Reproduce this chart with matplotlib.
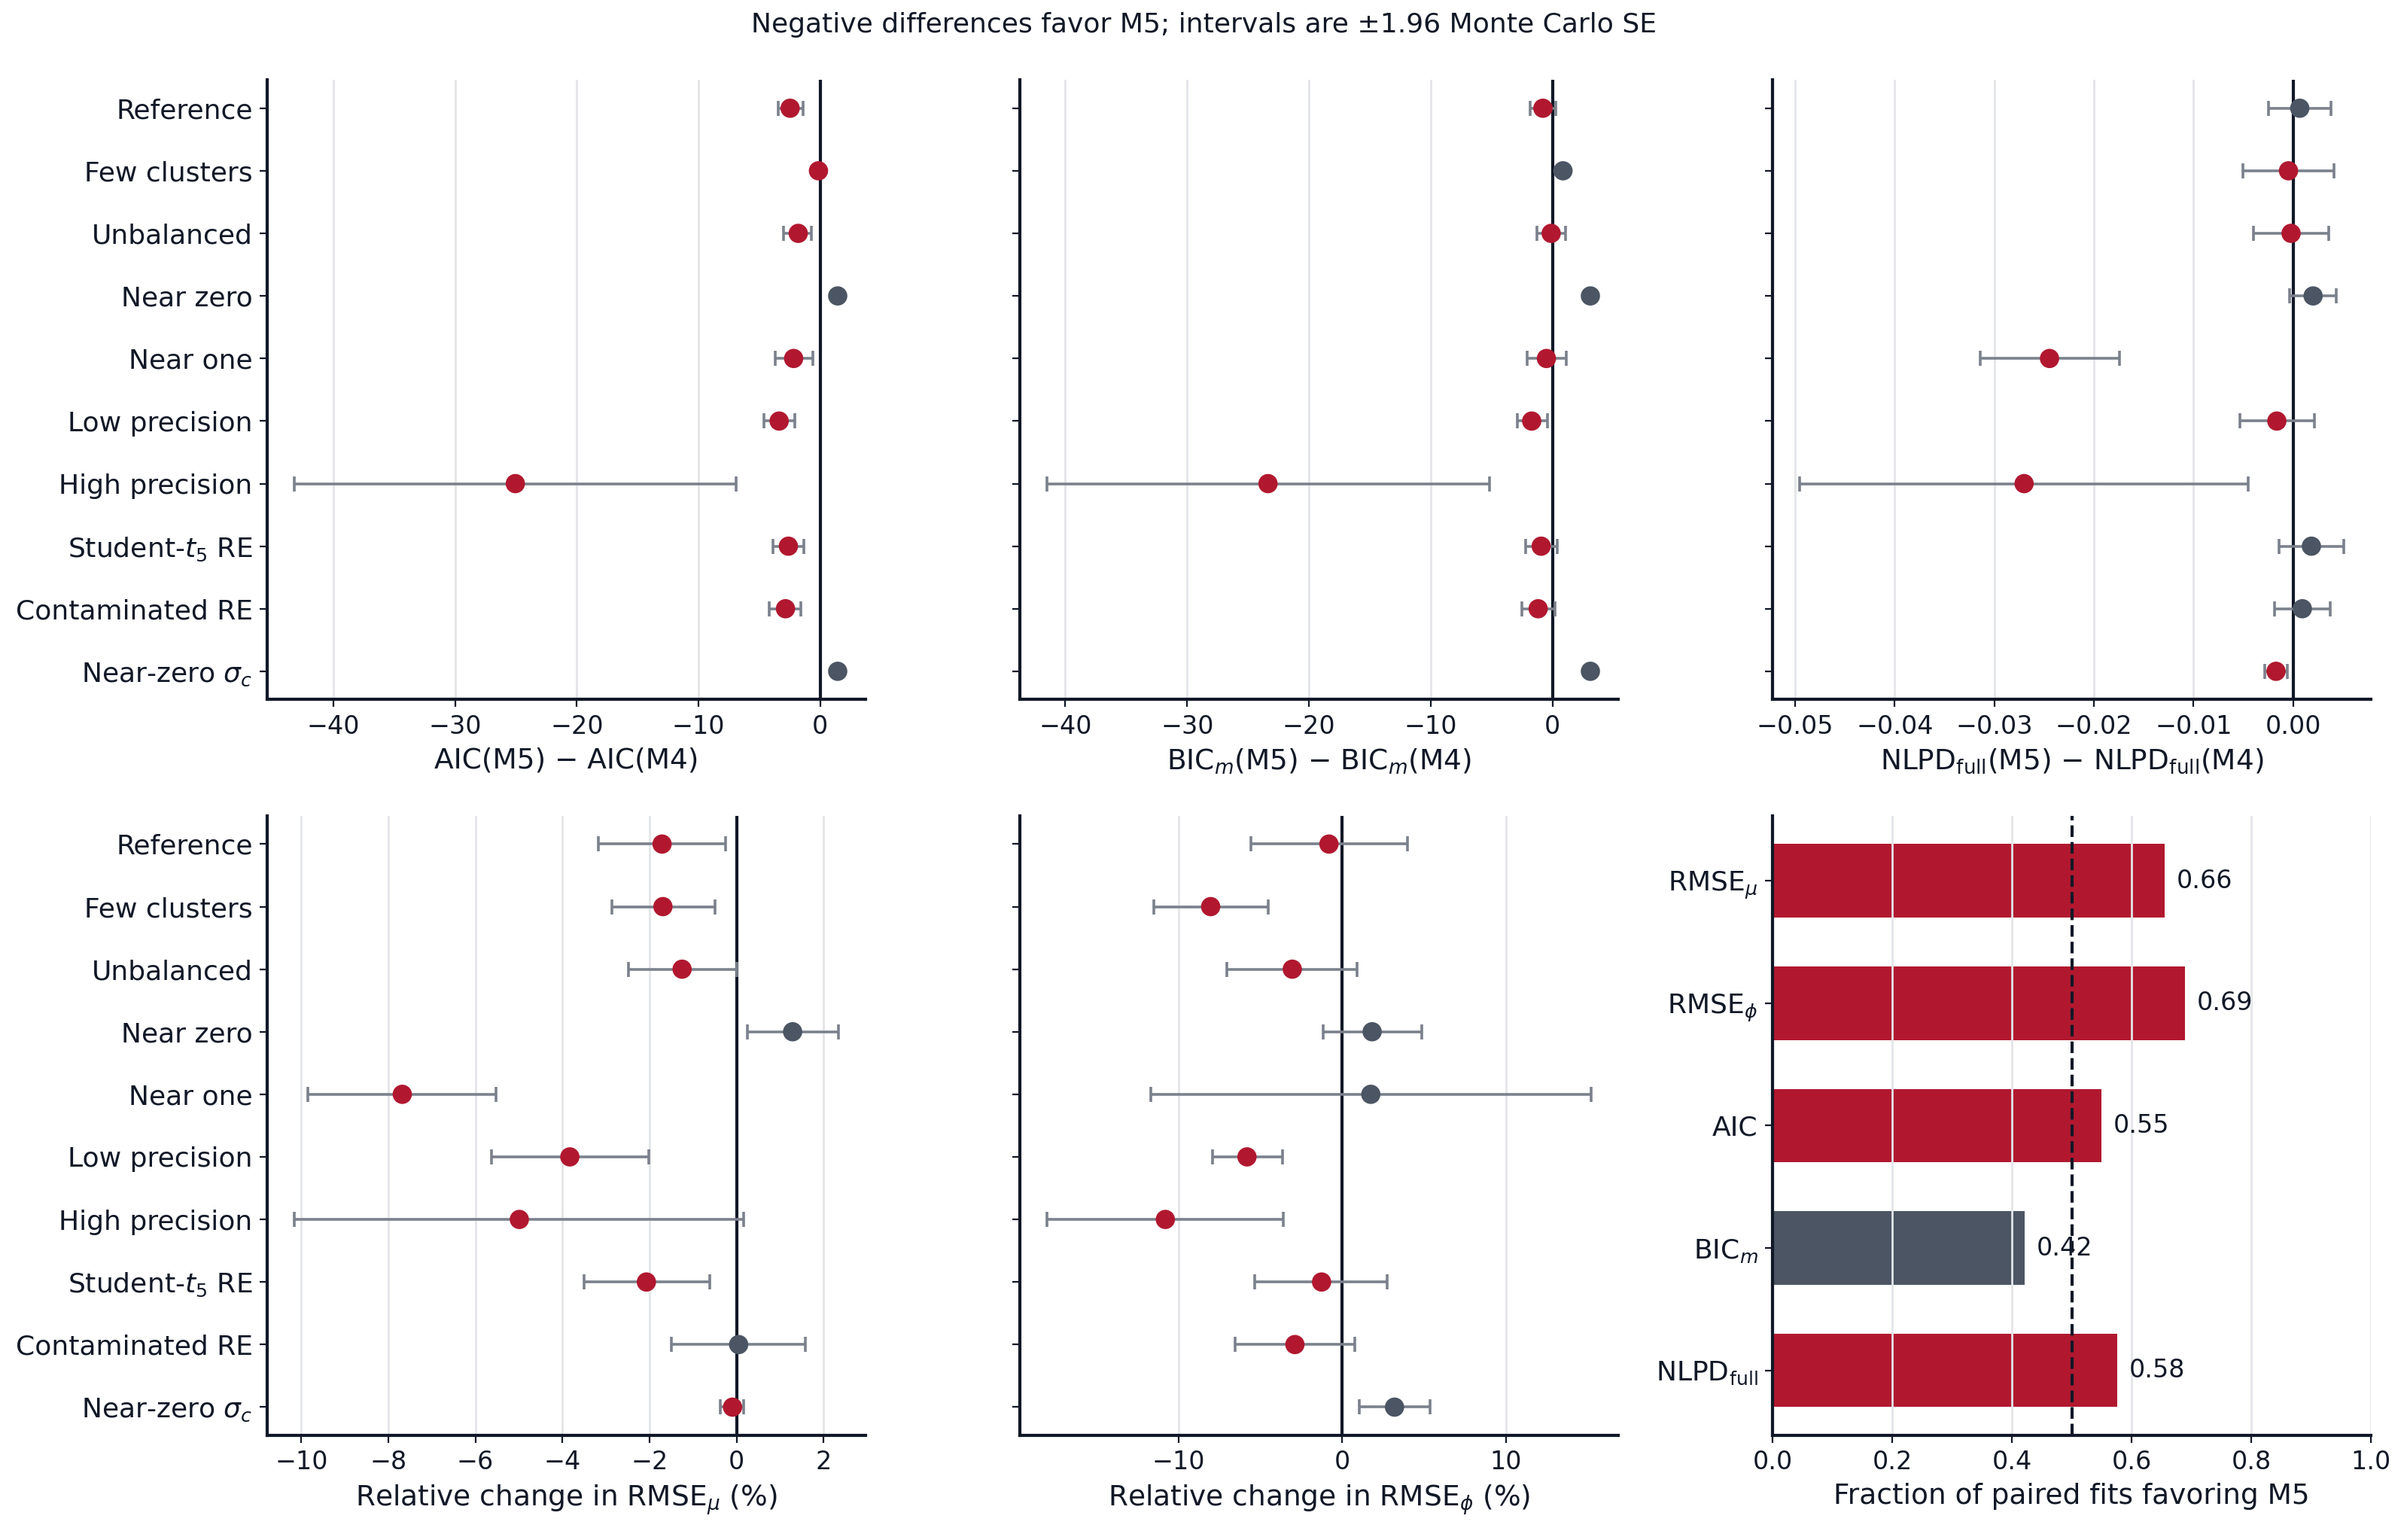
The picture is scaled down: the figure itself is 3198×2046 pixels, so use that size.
import numpy as np
import matplotlib
matplotlib.use("Agg")
import matplotlib.pyplot as plt

# --------------------------
# Datos

escenarios = ["Reference", "Few clusters", "Unbalanced", "Near zero", "Near one",
              "Low precision", "High precision", "Student-$t_5$ RE",
              "Contaminated RE", "Near-zero $\\sigma_c$"]

aic_dif = [-2.48, -0.15, -1.81, 1.43, -2.19, -3.38, -25.05, -2.62, -2.86, 1.43]
aic_lo = [-3.48, -0.25, -3.00, 1.38, -3.71, -4.62, -43.20, -3.86, -4.19, 1.38]
aic_hi = [-1.43, -0.05, -0.71, 1.48, -0.62, -2.10, -6.90, -1.33, -1.57, 1.48]

bic_dif = [-0.79, 0.86, -0.11, 3.11, -0.50, -1.71, -23.36, -0.93, -1.18, 3.11]
bic_lo = [-1.86, 0.81, -1.29, 3.06, -2.11, -2.89, -41.50, -2.21, -2.54, 3.06]
bic_hi = [0.29, 0.91, 1.07, 3.16, 1.14, -0.39, -5.18, 0.36, 0.18, 3.16]

nlpd_dif = [0.00065, -0.00048, -0.00022, 0.00199, -0.02446, -0.00165, -0.02701,
            0.00182, 0.00091, -0.00173]
nlpd_lo = [-0.00251, -0.00502, -0.00403, -0.00035, -0.03143, -0.00532, -0.04952,
           -0.00143, -0.00190, -0.00286]
nlpd_hi = [0.00377, 0.00411, 0.00359, 0.00433, -0.01745, 0.00216, -0.00455,
           0.00506, 0.00372, -0.00056]

rmse_mu = [-1.71, -1.69, -1.25, 1.29, -7.68, -3.83, -4.99, -2.07, 0.05, -0.09]
rmse_mu_lo = [-3.18, -2.86, -2.49, 0.25, -9.85, -5.63, -10.16, -3.51, -1.49, -0.37]
rmse_mu_hi = [-0.25, -0.50, 0.00, 2.34, -5.53, -2.02, 0.17, -0.62, 1.58, 0.17]

rmse_phi = [-0.82, -8.05, -3.06, 1.82, 1.74, -5.83, -10.82, -1.27, -2.90, 3.19]
rmse_phi_lo = [-5.59, -11.53, -7.04, -1.19, -11.69, -7.94, -18.05, -5.36, -6.54, 1.03]
rmse_phi_hi = [3.96, -4.54, 0.90, 4.85, 15.20, -3.67, -3.61, 2.74, 0.77, 5.36]

metricas = ["RMSE$_\\mu$", "RMSE$_\\phi$", "AIC", "BIC$_m$", "NLPD$_{\\mathrm{full}}$"]
fraccion = [0.655, 0.689, 0.549, 0.421, 0.576]

# --------------------------
# Estilo

ROJO = "#b1182f"
GRIS = "#4b5563"
BARRA_ERR = "#7b818c"
TEXTO = "#111827"
REJILLA = "#e3e5e8"

plt.rcParams.update({
    "font.family": "DejaVu Sans",
    "font.size": 12,
    "text.color": TEXTO,
    "axes.labelcolor": TEXTO,
    "axes.edgecolor": TEXTO,
    "axes.linewidth": 1.5,
    "xtick.color": TEXTO,
    "ytick.color": TEXTO,
    "xtick.labelsize": 12,
    "ytick.labelsize": 13,
    "axes.labelsize": 13.5,
    "mathtext.fontset": "dejavusans",
})


def panel_puntos(ax, valores, lo, hi, etiqueta, con_nombres):
    """Dibuja un panel de puntos con intervalos."""
    y = np.arange(len(valores))
    valores = np.asarray(valores)
    err = np.vstack([valores - np.asarray(lo), np.asarray(hi) - valores])
    ax.grid(axis="x", color=REJILLA, linewidth=1.0)
    ax.errorbar(valores, y, xerr=err, fmt="none", ecolor=BARRA_ERR,
                elinewidth=1.3, capsize=3.5, capthick=1.3, zorder=2)
    colores = [ROJO if v < 0 else GRIS for v in valores]
    ax.scatter(valores, y, s=85, c=colores, zorder=3, linewidths=0)
    ax.axvline(0, color=TEXTO, linewidth=1.5, zorder=1.8)
    ax.set_yticks(y)
    if con_nombres:
        ax.set_yticklabels(escenarios)
    else:
        ax.set_yticklabels([])
    ax.invert_yaxis()
    ax.set_xlabel(etiqueta)
    for lado in ["top", "right"]:
        ax.spines[lado].set_visible(False)


fig, axes = plt.subplots(2, 3, figsize=(15.99, 10.23), dpi=200)
fig.subplots_adjust(left=0.111, right=0.985, top=0.948, bottom=0.068,
                    wspace=0.258, hspace=0.188)

panel_puntos(axes[0, 0], aic_dif, aic_lo, aic_hi, "AIC(M5) − AIC(M4)", True)
panel_puntos(axes[0, 1], bic_dif, bic_lo, bic_hi,
             "BIC$_m$(M5) − BIC$_m$(M4)", False)
panel_puntos(axes[0, 2], nlpd_dif, nlpd_lo, nlpd_hi,
             "NLPD$_{\\mathrm{full}}$(M5) − NLPD$_{\\mathrm{full}}$(M4)", False)
panel_puntos(axes[1, 0], rmse_mu, rmse_mu_lo, rmse_mu_hi,
             "Relative change in RMSE$_\\mu$ (%)", True)
panel_puntos(axes[1, 1], rmse_phi, rmse_phi_lo, rmse_phi_hi,
             "Relative change in RMSE$_\\phi$ (%)", False)
axes[0, 2].set_xticks([-0.05, -0.04, -0.03, -0.02, -0.01, 0.0])
axes[1, 1].set_xticks([-10, 0, 10])

# Panel de barras
ax = axes[1, 2]
yb = np.arange(len(metricas))
colores_b = [ROJO if f > 0.5 else GRIS for f in fraccion]
ax.grid(axis="x", color=REJILLA, linewidth=1.0)
ax.barh(yb, fraccion, height=0.6, color=colores_b, zorder=1)
ax.axvline(0.5, color=TEXTO, linestyle="--", linewidth=1.5, zorder=3)
for yi, f in zip(yb, fraccion):
    ax.text(f + 0.02, yi, f"{f:.2f}", va="center", ha="left", fontsize=12)
ax.set_yticks(yb)
ax.set_yticklabels(metricas)
ax.invert_yaxis()
ax.set_xlim(0, 1)
ax.set_xlabel("Fraction of paired fits favoring M5")
for lado in ["top", "right"]:
    ax.spines[lado].set_visible(False)

fig.suptitle("Negative differences favor M5; intervals are ±1.96 Monte Carlo SE",
             fontsize=13, y=0.992)

fig.savefig("out.png", dpi=200)
